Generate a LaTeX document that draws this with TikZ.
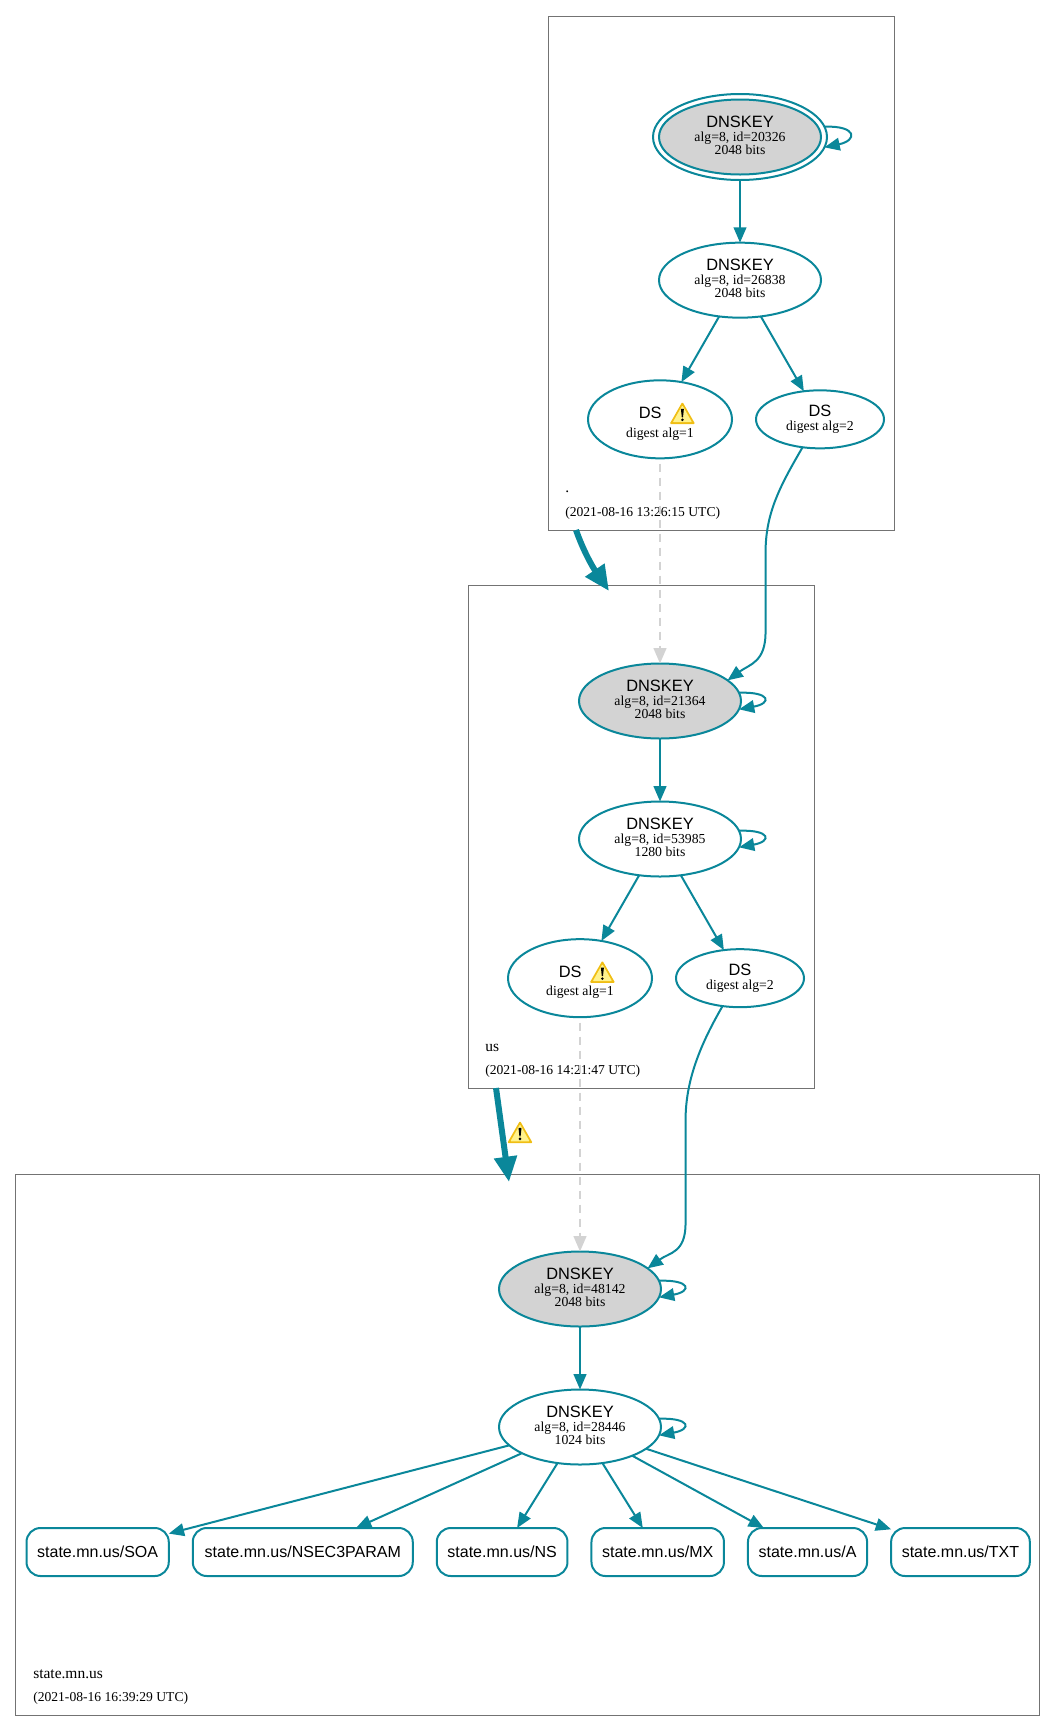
\documentclass[tikz,border=0pt]{standalone}
\usepackage{fontspec}
\setmainfont{Liberation Serif}
\setsansfont{Liberation Sans}
\usepackage{xcolor}
\usetikzlibrary{arrows.meta, positioning, shapes.geometric}
\definecolor{dnsteal}{RGB}{10,135,154}
\definecolor{keygray}{RGB}{211,211,211}
\definecolor{warngold}{RGB}{240,190,20}
\definecolor{warnpale}{RGB}{255,242,140}
\newcommand{\namefont}{\sffamily\fontsize{12.3}{12.3}\selectfont}
\newcommand{\warnsign}{\tikz[baseline=-4pt,x=1.12pt,y=1.12pt]{%
  \fill[warngold,rounded corners=1pt] (-8.6,-7.2) -- (8.6,-7.2) -- (0,7.8) -- cycle;
  \fill[warnpale,rounded corners=0.6pt] (-6.4,-5.9) -- (6.4,-5.9) -- (0,5.4) -- cycle;
  \fill[black] (-1,3) -- (1,3) -- (0.4,-2.6) -- (-0.4,-2.6) -- cycle;
  \fill[black] (0,-4.3) circle (0.95);}}
\newcommand{\dshead}{\rule{0pt}{15pt}\hspace{10.5pt}{\namefont DS}\hspace{6pt}\warnsign}

\begin{document}
\begin{tikzpicture}[
    x=0.75pt, y=-0.75pt,
    node distance=47pt and 18pt,
    % ── Zone and record styles ──
    zonebox/.style={rectangle, draw=black!55, line width=0.75pt, inner sep=0pt, outer sep=0pt,
                    anchor=north west, minimum width=259.5pt},
    ovalnode/.style={ellipse, draw=dnsteal, line width=1.5pt, inner sep=0pt, outer sep=0pt,
                     align=center, font=\fontsize{10.3}{10.6}\selectfont},
    keynode/.style={ovalnode, minimum width=121.5pt, minimum height=56.25pt, text depth=2.4pt,
                    font=\fontsize{10.3}{10.2}\selectfont},
    sepnode/.style={keynode, fill=keygray},
    ksknode/.style={ovalnode, minimum width=130.5pt, minimum height=64.5pt},
    dswarn/.style={ovalnode, minimum width=108pt, minimum height=58.5pt},
    dsnode/.style={ovalnode, minimum width=96pt, minimum height=43.5pt},
    rrset/.style={rectangle, draw=dnsteal, line width=1.5pt, rounded corners=10.5pt,
                  inner xsep=8pt, outer sep=0pt, minimum height=36pt,
                  font=\sffamily\fontsize{12}{12}\selectfont},
    zonelabel/.style={anchor=base west, inner sep=0pt, font=\fontsize{11.6}{12}\selectfont},
    zonedate/.style={anchor=base west, inner sep=0pt, font=\fontsize{10.2}{11}\selectfont},
    arr/.style={-{Triangle[length=11.5pt,width=9.5pt]}, line width=1.5pt, dnsteal},
    dsarr/.style={arr, keygray, dash pattern=on 6.5pt off 4pt, dash phase=6.5pt},
    delegarr/.style={-{Triangle[length=19pt,width=16.5pt]}, line width=4.5pt, dnsteal}
]
\useasboundingbox (0,0) rectangle (1056,1732);

% ═══ Zone boxes ═══
\node[zonebox, minimum height=385.5pt] (zone-root) at (548,16) {};
\node[zonebox, minimum height=377.25pt] (zone-us) at (468,585) {};
\node[zonebox, minimum width=768pt, minimum height=405.75pt] (zone-mn) at (15.5,1174) {};

% ═══ Root zone ═══
\node[sepnode] (ksk-root) at (740,137) {{\namefont DNSKEY}\\alg=8, id=20326\\2048 bits};
\node[ksknode] (ksk-root-ring) at (ksk-root) {};
\node[keynode, below=47pt of ksk-root-ring] (zsk-root) {{\namefont DNSKEY}\\alg=8, id=26838\\2048 bits};
\node[dswarn, below=47pt of zsk-root, xshift=-60pt] (ds1-root) {\dshead\\[1.5pt]digest alg=1};
\node[dsnode, right=of ds1-root] (ds2-root) {{\namefont DS}\\digest alg=2};
\node[zonelabel] (name-root) at (565,492) {.};
\node[zonedate] (date-root) at (565,516) {(2021-08-16 13:26:15 UTC)};

% ═══ us zone ═══
\node[sepnode] (ksk-us) at (660,701) {{\namefont DNSKEY}\\alg=8, id=21364\\2048 bits};
\node[keynode, below=47.25pt of ksk-us] (zsk-us) {{\namefont DNSKEY}\\alg=8, id=53985\\1280 bits};
\node[dswarn, below=47pt of zsk-us, xshift=-60pt] (ds1-us) {\dshead\\[1.5pt]digest alg=1};
\node[dsnode, right=of ds1-us] (ds2-us) {{\namefont DS}\\digest alg=2};
\node[zonelabel] (name-us) at (485,1051) {us};
\node[zonedate] (date-us) at (485,1074) {(2021-08-16 14:21:47 UTC)};

% ═══ state.mn.us zone ═══
\node[sepnode] (ksk-mn) at (580,1289) {{\namefont DNSKEY}\\alg=8, id=48142\\2048 bits};
\node[keynode, below=47.25pt of ksk-mn] (zsk-mn) {{\namefont DNSKEY}\\alg=8, id=28446\\1024 bits};
\node[rrset, anchor=west] (rr-soa) at (26.5,1552) {state.mn.us/SOA};
\node[rrset, right=of rr-soa, minimum width=165pt] (rr-nsec) {state.mn.us/NSEC3PARAM};
\node[rrset, right=of rr-nsec]  (rr-ns)   {state.mn.us/NS};
\node[rrset, right=of rr-ns]    (rr-mx)   {state.mn.us/MX};
\node[rrset, right=of rr-mx]    (rr-a)    {state.mn.us/A};
\node[rrset, right=of rr-a]     (rr-txt)  {state.mn.us/TXT};
\node[zonelabel] (name-mn) at (33,1678) {state.mn.us};
\node[zonedate] (date-mn) at (33,1701) {(2021-08-16 16:39:29 UTC)};

% ═══ Signing arrows ═══
\draw[arr] (ksk-root-ring) -- (zsk-root);
\draw[arr] (zsk-root) -- (ds1-root);
\draw[arr] (zsk-root) -- (ds2-root);
\draw[arr] (ksk-us) -- (zsk-us);
\draw[arr] (zsk-us) -- (ds1-us);
\draw[arr] (zsk-us) -- (ds2-us);
\draw[arr] (ksk-mn) -- (zsk-mn);
\draw[arr] (zsk-mn) -- (rr-soa);
\draw[arr] (zsk-mn) -- (rr-nsec);
\draw[arr] (zsk-mn) -- (rr-ns);
\draw[arr] (zsk-mn) -- (rr-mx);
\draw[arr] (zsk-mn) -- (rr-a);
\draw[arr] (zsk-mn) -- (rr-txt);

% ═══ Self signatures ═══
\draw[arr] (ksk-root-ring.7) .. controls +(33,-1) and +(33,-7) .. (ksk-root-ring.-7);
\draw[arr] (ksk-us.6) .. controls +(32,-1) and +(33,-6) .. (ksk-us.-6);
\draw[arr] (zsk-us.6) .. controls +(32,-1) and +(33,-6) .. (zsk-us.-6);
\draw[arr] (ksk-mn.6) .. controls +(32,-1) and +(33,-6) .. (ksk-mn.-6);
\draw[arr] (zsk-mn.6) .. controls +(32,-1) and +(33,-6) .. (zsk-mn.-6);

% ═══ DS to DNSKEY across zones ═══
\draw[dsarr] (ds1-root) -- (ksk-us);
\draw[dsarr] (ds1-us) -- (ksk-mn);
\draw[arr] (ds2-root.238) .. controls +(-22,38) and +(0,-40) .. ++(-37,105) -- ++(0,80)
  .. controls +(0,30) and +(22,-16) .. (ksk-us.17);
\draw[arr] (ds2-us.238) .. controls +(-22,38) and +(0,-40) .. ++(-37,114) -- ++(0,103)
  .. controls +(0,30) and +(22,-16) .. (ksk-mn.17);

% ═══ Delegation arrows ═══
\coordinate (deleg-root-out) at (576,530);
\coordinate (deleg-us-in) at (609,591);
\coordinate (deleg-us-out) at (496,1088);
\coordinate (deleg-mn-in) at (509,1182);
\draw[delegarr] (deleg-root-out) .. controls (583,550) and (592,566) .. (deleg-us-in);
\draw[delegarr] (deleg-us-out) -- (deleg-mn-in);
\node[inner sep=0pt] (warn-deleg) at (520,1132) {\warnsign};

\end{tikzpicture}
\end{document}
